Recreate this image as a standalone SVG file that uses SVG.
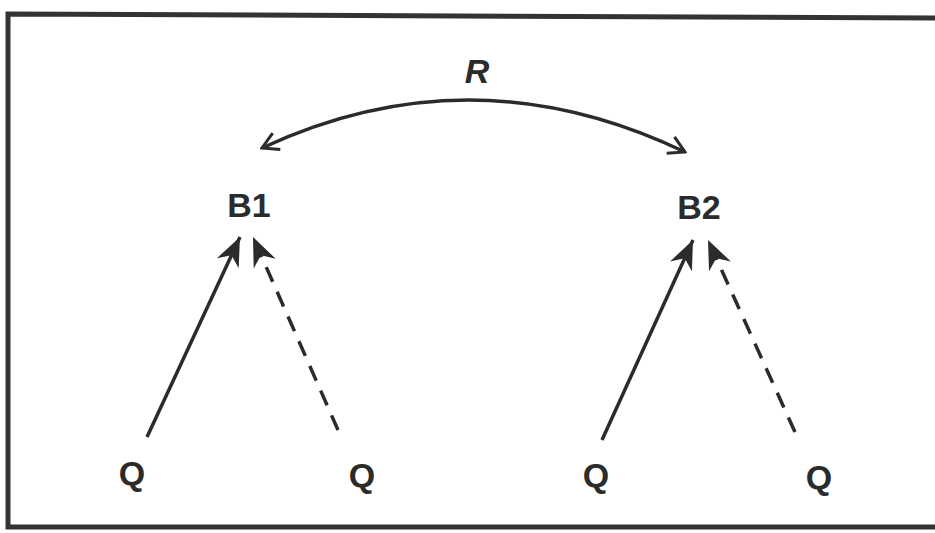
<svg xmlns="http://www.w3.org/2000/svg" width="935" height="533" viewBox="0 0 935 533">
<style>
.lbl{font-family:"Liberation Sans",Arial,sans-serif;font-weight:bold;font-size:34px;fill:#2b2b2b;text-anchor:middle}
.ln{stroke:#2b2b2b;stroke-width:3.5;fill:none}
.dash{stroke-dasharray:16 11}
</style>
<defs>
<marker id="barb" viewBox="-30 -14 32 28" refX="0" refY="0" markerWidth="32" markerHeight="28" markerUnits="userSpaceOnUse" orient="auto">
<path d="M0,0 L-29,-12 L-20,0 L-29,12 Z" fill="#2b2b2b"/>
</marker>
<marker id="open" viewBox="-20 -12 22 24" refX="0" refY="0" markerWidth="22" markerHeight="24" markerUnits="userSpaceOnUse" orient="auto-start-reverse">
<path d="M-16,-9 L0,0 L-16,9" fill="none" stroke="#2b2b2b" stroke-width="3"/>
</marker>
</defs>
<rect x="0" y="0" width="935" height="533" fill="#ffffff"/>
<path d="M945,18 L8,14 L8,527 L945,527" fill="none" stroke="#333" stroke-width="5"/>
<g id="connectors">
<path id="R-arc" class="ln" d="M262,148 Q472,50 685,152" stroke-width="3" marker-start="url(#open)" marker-end="url(#open)"/>
<line class="ln" x1="147" y1="437" x2="240" y2="237" marker-end="url(#barb)"/>
<line class="ln dash" x1="338" y1="430" x2="253" y2="237" marker-end="url(#barb)"/>
<line class="ln" x1="602" y1="440" x2="693" y2="240" marker-end="url(#barb)"/>
<line class="ln dash" x1="795" y1="432" x2="708" y2="240" marker-end="url(#barb)"/>
</g>
<text class="lbl" x="477" y="83" font-style="italic" font-size="32">R</text>
<g id="B1"><text class="lbl" x="249" y="217">B1</text></g>
<g id="B2"><text class="lbl" x="699" y="219">B2</text></g>
<g id="Q1"><text class="lbl" x="132" y="485">Q</text></g>
<g id="Q2"><text class="lbl" x="362" y="487">Q</text></g>
<g id="Q3"><text class="lbl" x="596" y="487">Q</text></g>
<g id="Q4"><text class="lbl" x="819" y="489">Q</text></g>
</svg>
